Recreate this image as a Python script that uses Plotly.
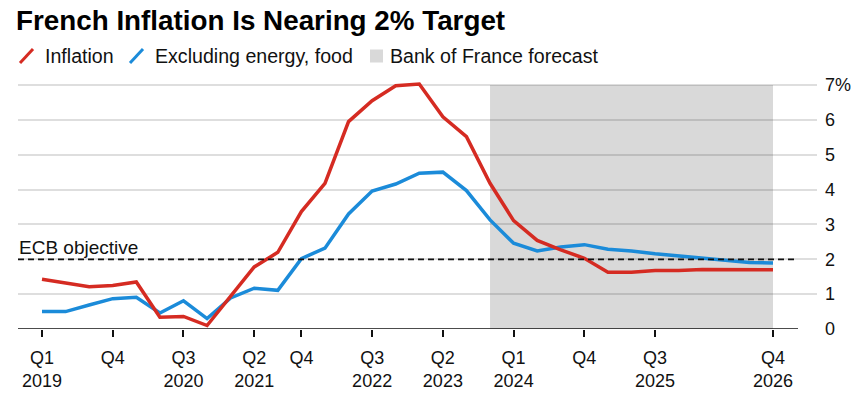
import plotly.graph_objects as go

quarters = ["2019Q1", "2019Q2", "2019Q3", "2019Q4",
            "2020Q1", "2020Q2", "2020Q3", "2020Q4",
            "2021Q1", "2021Q2", "2021Q3", "2021Q4",
            "2022Q1", "2022Q2", "2022Q3", "2022Q4",
            "2023Q1", "2023Q2", "2023Q3", "2023Q4",
            "2024Q1", "2024Q2", "2024Q3", "2024Q4",
            "2025Q1", "2025Q2", "2025Q3", "2025Q4",
            "2026Q1", "2026Q2", "2026Q3", "2026Q4"]

inflation = [1.43, 1.32, 1.21, 1.25, 1.35, 0.34, 0.36, 0.10,
             0.95, 1.78, 2.20, 3.37, 4.18, 5.95, 6.55, 6.98,
             7.03, 6.09, 5.52, 4.18, 3.11, 2.54, 2.27, 2.03,
             1.63, 1.63, 1.68, 1.68, 1.71, 1.71, 1.70, 1.70]

core = [0.50, 0.50, 0.69, 0.87, 0.91, 0.46, 0.81, 0.30,
        0.89, 1.17, 1.11, 2.02, 2.32, 3.30, 3.96, 4.16,
        4.47, 4.50, 3.97, 3.13, 2.46, 2.24, 2.35, 2.42,
        2.29, 2.24, 2.16, 2.10, 2.02, 1.96, 1.91, 1.89]

tick_quarters = ["2019Q1", "2019Q4", "2020Q3", "2021Q2", "2021Q4", "2022Q3",
                 "2023Q2", "2024Q1", "2024Q4", "2025Q3", "2026Q4"]
tick_text = ["Q1<br>2019", "Q4", "Q3<br>2020", "Q2<br>2021", "Q4", "Q3<br>2022",
             "Q2<br>2023", "Q1<br>2024", "Q4", "Q3<br>2025", "Q4<br>2026"]

y_ticks = [0, 1, 2, 3, 4, 5, 6, 7]
y_text = ["0", "1", "2", "3", "4", "5", "6", "7%"]

forecast_start = "2023Q4"
forecast_end = "2026Q4"
ecb_target = 2

RED = "#d52b22"
BLUE = "#1b8bd9"
SHADE = "#d9d9d9"
TXT = "#111111"
FONT = "Liberation Sans, Arial, sans-serif"

W, H = 856, 394
L, R, T, B = 18, 39, 80, 65
pw, ph = W - L - R, H - T - B


def px(x):
    return (x - L) / pw


def py(y):
    return (H - B - y) / ph


fig = go.Figure()
fig.add_trace(go.Scatter(x=quarters, y=core, mode="lines",
                         line=dict(color=BLUE, width=3.5), name="Excluding energy, food"))
fig.add_trace(go.Scatter(x=quarters, y=inflation, mode="lines",
                         line=dict(color=RED, width=3.5), name="Inflation"))

shapes = []
# forecast shading
shapes.append(dict(type="rect", xref="x", yref="y", x0=forecast_start, x1=forecast_end,
                   y0=0, y1=7, fillcolor=SHADE, line=dict(width=0), layer="below"))
# ECB objective dashed line
shapes.append(dict(type="line", xref="paper", yref="y", x0=0, x1=px(798),
                   y0=ecb_target, y1=ecb_target,
                   line=dict(color="#111111", width=1.8, dash="6px,4px"), layer="above"))
# zero axis line
shapes.append(dict(type="line", xref="paper", yref="y", x0=px(798), x1=px(808), y0=0, y1=0,
                   line=dict(color="white", width=3), layer="above"))
shapes.append(dict(type="line", xref="paper", yref="y", x0=0, x1=px(798), y0=0, y1=0,
                   line=dict(color="#111111", width=1.5), layer="above"))
# legend icons
shapes.append(dict(type="line", xref="paper", yref="paper", x0=px(20), x1=px(33),
                   y0=py(63), y1=py(49), line=dict(color=RED, width=3)))
shapes.append(dict(type="line", xref="paper", yref="paper", x0=px(130), x1=px(143),
                   y0=py(63), y1=py(49), line=dict(color=BLUE, width=3)))
shapes.append(dict(type="rect", xref="paper", yref="paper", x0=px(370), x1=px(383),
                   y0=py(62.5), y1=py(49.5), fillcolor=SHADE, line=dict(width=0)))

annotations = [
    dict(text="Inflation", x=px(43), y=py(55.5), xref="paper", yref="paper",
         xanchor="left", yanchor="middle", showarrow=False,
         font=dict(size=19.6, color=TXT, family=FONT)),
    dict(text="Excluding energy, food", x=px(153), y=py(55.5), xref="paper", yref="paper",
         xanchor="left", yanchor="middle", showarrow=False,
         font=dict(size=19.6, color=TXT, family=FONT)),
    dict(text="Bank of France forecast", x=px(388), y=py(55.5), xref="paper", yref="paper",
         xanchor="left", yanchor="middle", showarrow=False,
         font=dict(size=19.6, color=TXT, family=FONT)),
    dict(text="ECB objective", x=px(17), y=py(247.5), xref="paper", yref="paper",
         xanchor="left", yanchor="middle", showarrow=False,
         font=dict(size=19, color=TXT, family=FONT)),
]

qpx = (773 - 42) / 31.0
x_range = [-(42 - L) / qpx, 31 + (W - R - 773) / qpx]
y_range = [0, ph / ((329 - 85) / 7.0)]

fig.update_layout(
    width=W, height=H,
    margin=dict(l=L, r=R, t=T, b=B, autoexpand=False),
    paper_bgcolor="white", plot_bgcolor="white",
    showlegend=False,
    title=dict(text="<b>French Inflation Is Nearing 2% Target</b>",
               x=16 / W, xanchor="left", xref="container",
               y=1 - 11 / H, yanchor="top", yref="container",
               font=dict(size=27.8, color="#000000", family=FONT)),
    xaxis=dict(type="category", categoryorder="array", categoryarray=quarters,
               range=x_range, tickmode="array", tickvals=tick_quarters, ticktext=tick_text,
               showgrid=False, zeroline=False, showline=False, automargin=False,
               ticks="outside", ticklen=7, tickwidth=1.5, tickcolor="#111111",
               ticklabelstandoff=5,
               tickfont=dict(size=18, color=TXT, family=FONT)),
    yaxis=dict(side="right", range=y_range, tickmode="array", tickvals=y_ticks, ticktext=y_text,
               showgrid=True, gridcolor="rgba(0,0,0,0.13)", gridwidth=1.5, automargin=False,
               zeroline=False, showline=False, ticks="", ticklabelstandoff=7,
               tickfont=dict(size=18, color=TXT, family=FONT)),
    shapes=shapes,
    annotations=annotations,
)

fig.write_html("out.html", config={"displayModeBar": False},
               post_script="document.body.style.margin='0px';document.body.style.overflow='hidden';")
